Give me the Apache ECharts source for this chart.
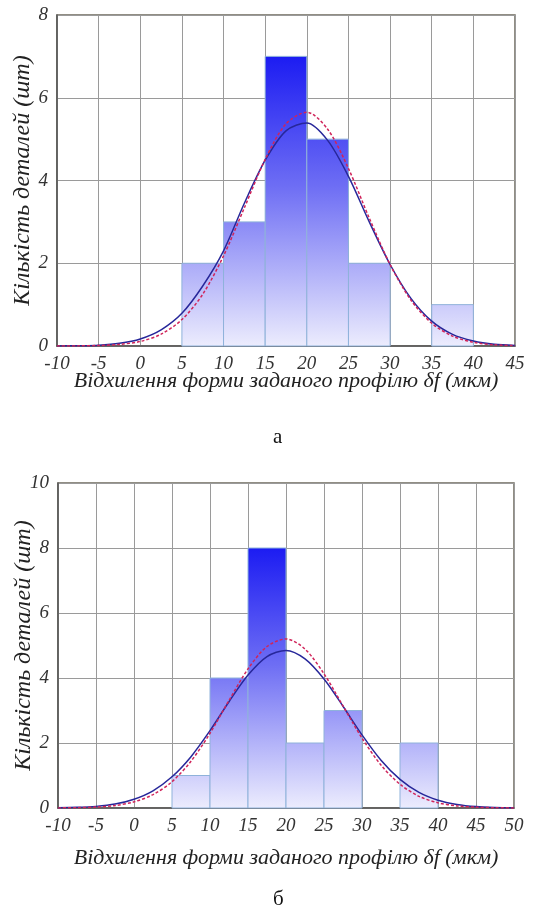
<!DOCTYPE html>
<html>
<head>
<meta charset="utf-8">
<script src="https://cdn.jsdelivr.net/npm/echarts@6/dist/echarts.min.js"></script>
<style>
html, body { margin: 0; padding: 0; background: #fff; }
#main { width: 551px; height: 906px; }
</style>
</head>
<body>
<div id="main"></div>
<script>
// гістограми: [від, до, кількість]
var binsA = [[5, 10, 2], [10, 15, 3], [15, 20, 7], [20, 25, 5], [25, 30, 2], [35, 40, 1]];
var binsB = [[5, 10, 1], [10, 15, 4], [15, 20, 8], [20, 25, 2], [25, 30, 3], [35, 40, 2]];

// точки кривих (крок 2.5 мкм)
var curveXA = [-10, -7.5, -5, -2.5, 0, 2.5, 5, 7.5, 10, 12.5, 15, 17.5, 20, 22.5, 25, 27.5, 30, 32.5, 35, 37.5, 40, 42.5, 45];
var blueA = [0.002, 0.007, 0.02, 0.065, 0.17, 0.39, 0.79, 1.45, 2.3, 3.45, 4.49, 5.2, 5.39, 4.97, 4.1, 3.0, 1.97, 1.15, 0.6, 0.28, 0.12, 0.04, 0.014];
var redA = [0.001, 0.003, 0.012, 0.039, 0.11, 0.285, 0.64, 1.25, 2.18, 3.34, 4.51, 5.37, 5.65, 5.24, 4.29, 3.09, 1.97, 1.11, 0.55, 0.24, 0.09, 0.03, 0.01];

var curveXB = [-10, -7.5, -5, -2.5, 0, 2.5, 5, 7.5, 10, 12.5, 15, 17.5, 20, 22.5, 25, 27.5, 30, 32.5, 35, 37.5, 40, 42.5, 45, 47.5, 50];
var blueB = [0.007, 0.02, 0.05, 0.12, 0.27, 0.53, 0.96, 1.58, 2.38, 3.27, 4.09, 4.66, 4.85, 4.59, 3.97, 3.13, 2.25, 1.47, 0.88, 0.48, 0.24, 0.11, 0.044, 0.017, 0.006];
var redB = [0.003, 0.009, 0.028, 0.076, 0.19, 0.41, 0.81, 1.44, 2.3, 3.31, 4.28, 4.97, 5.2, 4.89, 4.13, 3.14, 2.15, 1.32, 0.73, 0.36, 0.16, 0.065, 0.024, 0.008, 0.002];

var xTitle = 'Відхилення форми заданого профілю δf (мкм)';
var yTitle = 'Кількість деталей (шт)';
var serif = 'Liberation Serif';

function pairs(xs, ys) {
    return xs.map(function (x, i) { return [x, ys[i]]; });
}

function maxOf(bins) {
    return Math.max.apply(null, bins.map(function (b) { return b[2]; }));
}

// стовпчик з градієнтом від темно-синього (вершина найвищого) до блідого (нуль)
function barRenderer(maxVal) {
    return function (params, api) {
        var p0 = api.coord([api.value(0), api.value(2)]);
        var p1 = api.coord([api.value(1), 0]);
        var yTop = api.coord([0, maxVal])[1];
        return {
            type: 'rect',
            shape: { x: p0[0], y: p0[1], width: p1[0] - p0[0], height: p1[1] - p0[1] },
            style: {
                fill: new echarts.graphic.LinearGradient(0, yTop, 0, p1[1], [
                    { offset: 0, color: 'rgb(28,28,242)' },
                    { offset: 0.45, color: 'rgb(110,110,244)' },
                    { offset: 1, color: 'rgb(236,236,253)' }
                ], true),
                stroke: '#8fb2da',
                lineWidth: 1
            }
        };
    };
}

function xAxis(gi, max, gap) {
    return {
        type: 'value', gridIndex: gi, min: -10, max: max, interval: 5,
        name: xTitle, nameLocation: 'middle', nameGap: gap, nameMoveOverlap: false,
        nameTextStyle: { fontFamily: serif, fontStyle: 'italic', fontSize: 22, color: '#222' },
        axisLine: { show: true, onZero: false, lineStyle: { color: '#555', width: 1.5 } },
        axisTick: { show: false },
        axisLabel: { fontFamily: serif, fontStyle: 'italic', fontSize: 19, color: '#333', margin: 8 },
        splitLine: { show: true, lineStyle: { color: '#9a9a9a', width: 1 } }
    };
}

function yAxis(gi, max) {
    return {
        type: 'value', gridIndex: gi, min: 0, max: max, interval: 2,
        name: yTitle, nameLocation: 'middle', nameGap: 22, nameRotate: 90, nameMoveOverlap: false,
        nameTextStyle: { fontFamily: serif, fontStyle: 'italic', fontSize: 24, color: '#222' },
        axisLine: { show: true, onZero: false, lineStyle: { color: '#555', width: 1.5 } },
        axisTick: { show: false },
        axisLabel: { fontFamily: serif, fontStyle: 'italic', fontSize: 19, color: '#333', margin: 9 },
        splitLine: { show: true, lineStyle: { color: '#9a9a9a', width: 1 } }
    };
}

function curve(gi, data, color, dashed) {
    return {
        type: 'line', xAxisIndex: gi, yAxisIndex: gi,
        data: data, smooth: 0.3, symbol: 'none', z: 5,
        lineStyle: { color: color, width: 1.5, type: dashed ? [3, 2] : 'solid' }
    };
}

var myChart = echarts.init(document.getElementById('main'));
myChart.setOption({
    animation: false,
    backgroundColor: '#fff',
    title: [
        { text: 'а', left: 268, top: 422, textStyle: { fontFamily: serif, fontWeight: 'normal', fontSize: 21, color: '#111' } },
        { text: 'б', left: 268, top: 884, textStyle: { fontFamily: serif, fontWeight: 'normal', fontSize: 21, color: '#111' } }
    ],
    grid: [
        { left: 57, top: 15, width: 458, height: 331, outerBoundsMode: 'none', containLabel: false,
          show: true, borderColor: '#6e6a5c', borderWidth: 1.5, backgroundColor: '#fff' },
        { left: 58, top: 483, width: 456, height: 325, outerBoundsMode: 'none', containLabel: false,
          show: true, borderColor: '#6e6a5c', borderWidth: 1.5, backgroundColor: '#fff' }
    ],
    xAxis: [xAxis(0, 45, 24), xAxis(1, 50, 39)],
    yAxis: [yAxis(0, 8), yAxis(1, 10)],
    series: [
        {
            type: 'custom', xAxisIndex: 0, yAxisIndex: 0,
            renderItem: barRenderer(maxOf(binsA)),
            encode: { x: [0, 1], y: 2 },
            data: binsA, z: 2
        },
        curve(0, pairs(curveXA, blueA), '#27279a', false),
        curve(0, pairs(curveXA, redA), '#d0245a', true),
        {
            type: 'custom', xAxisIndex: 1, yAxisIndex: 1,
            renderItem: barRenderer(maxOf(binsB)),
            encode: { x: [0, 1], y: 2 },
            data: binsB, z: 2
        },
        curve(1, pairs(curveXB, blueB), '#27279a', false),
        curve(1, pairs(curveXB, redB), '#d0245a', true)
    ]
});
</script>
</body>
</html>
